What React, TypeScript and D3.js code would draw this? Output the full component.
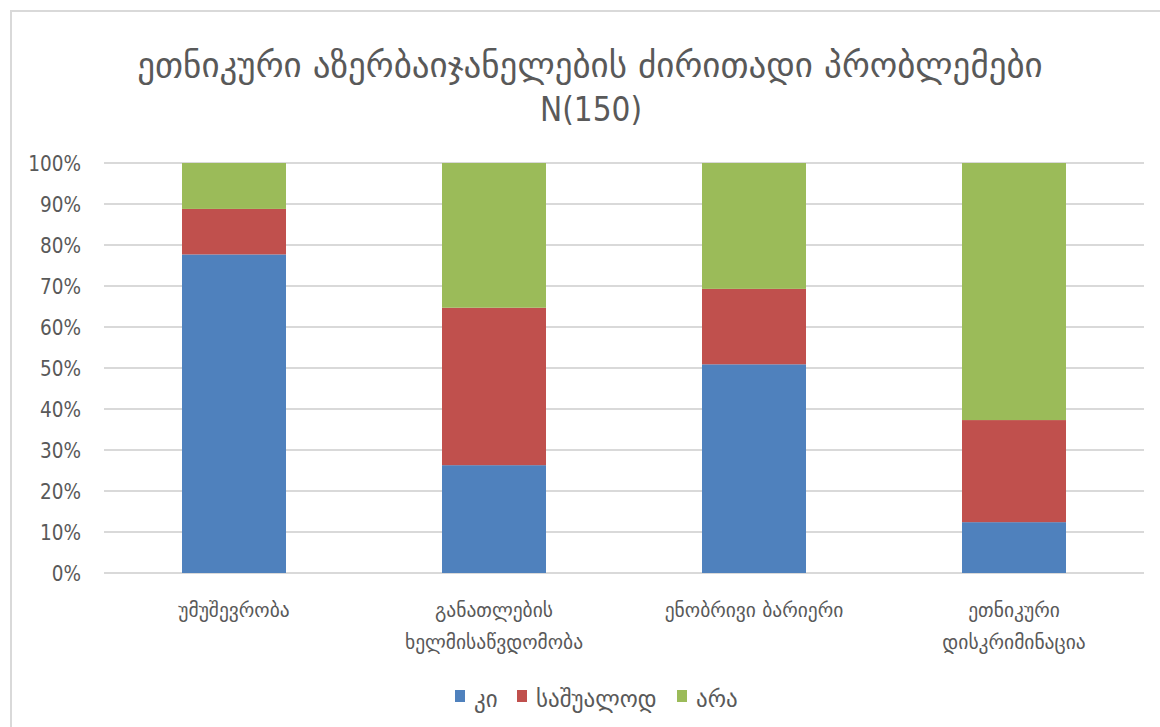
import React from "react";
import * as d3 from "d3";

const categories: string[][] = [
  ["უმუშევრობა"],
  ["განათლების", "ხელმისაწვდომობა"],
  ["ენობრივი ბარიერი"],
  ["ეთნიკური", "დისკრიმინაცია"],
];
const seriesNames = ["კი", "საშუალოდ", "არა"];
const kiValues = [77.7, 26.3, 50.9, 12.4];
const midValues = [11.1, 38.4, 18.4, 24.9];
const noValues = [11.2, 35.3, 30.7, 62.7];
const colors = ["#4F81BD", "#C0504D", "#9BBB59"];
const yTicks = [0, 10, 20, 30, 40, 50, 60, 70, 80, 90, 100];
const titleLines = ["ეთნიკური აზერბაიჯანელების ძირითადი პრობლემები", "N(150)"];

const W = 1160;
const H = 727;
const FONT_C = "'DejaVu Sans Condensed', 'DejaVu Sans', sans-serif";
const FONT_G = "'DejaVu Sans', sans-serif";

export default function App() {
  const left = 104, right = 1144, top = 163, bottom = 573;
  const rows = categories.map((c, i) => ({
    key: String(i),
    s0: kiValues[i],
    s1: midValues[i],
    s2: noValues[i],
  }));
  const stack = d3.stack<any>().keys(["s0", "s1", "s2"]);
  const layers = stack(rows);
  const x = d3
    .scaleBand<string>()
    .domain(rows.map((r) => r.key))
    .range([left, right])
    .paddingInner(0.6)
    .paddingOuter(0.3);
  const y = d3.scaleLinear().domain([0, 100]).range([bottom, top]);

  const legendX = [455, 517, 677];

  return (
    <svg
      width={W}
      height={H}
      style={{ position: "absolute", left: 0, top: 0, background: "#fff" }}
    >
      <rect x={11} y={11} width={W + 20} height={H + 20} fill="#fff" stroke="#d9d9d9" strokeWidth={2} />
      <text x={590} y={77} textAnchor="middle" fontFamily={FONT_G} fontSize={35} fill="#595959">
        {titleLines[0]}
      </text>
      <text x={591} y={121} textAnchor="middle" fontFamily={FONT_C} fontSize={33} fill="#595959">
        {titleLines[1]}
      </text>
      {yTicks.map((t) => (
        <g key={t}>
          <line x1={left} x2={right} y1={y(t)} y2={y(t)} stroke="#d9d9d9" strokeWidth={2} />
          <text
            x={81}
            y={y(t) + 7.5}
            textAnchor="end"
            fontFamily={FONT_C}
            fontSize={20.5}
            fill="#595959"
          >
            {t}%
          </text>
        </g>
      ))}
      {layers.map((layer, li) =>
        layer.map((d, i) => (
          <rect
            key={li + "-" + i}
            x={x(rows[i].key)}
            width={x.bandwidth()}
            y={y(d[1])}
            height={y(d[0]) - y(d[1])}
            fill={colors[li]}
          />
        ))
      )}
      {categories.map((lines, i) =>
        lines.map((ln, j) => (
          <text
            key={i + "-" + j}
            x={(x(String(i)) as number) + x.bandwidth() / 2}
            y={617 + j * 32}
            textAnchor="middle"
            fontFamily={FONT_G}
            fontSize={19.5}
            fill="#595959"
          >
            {ln}
          </text>
        ))
      )}
      {seriesNames.map((s, i) => (
        <g key={s}>
          <rect x={legendX[i]} y={690} width={10} height={12} fill={colors[i]} />
          <text x={legendX[i] + 19} y={707} fontFamily={FONT_G} fontSize={23} fill="#595959">
            {s}
          </text>
        </g>
      ))}
    </svg>
  );
}
